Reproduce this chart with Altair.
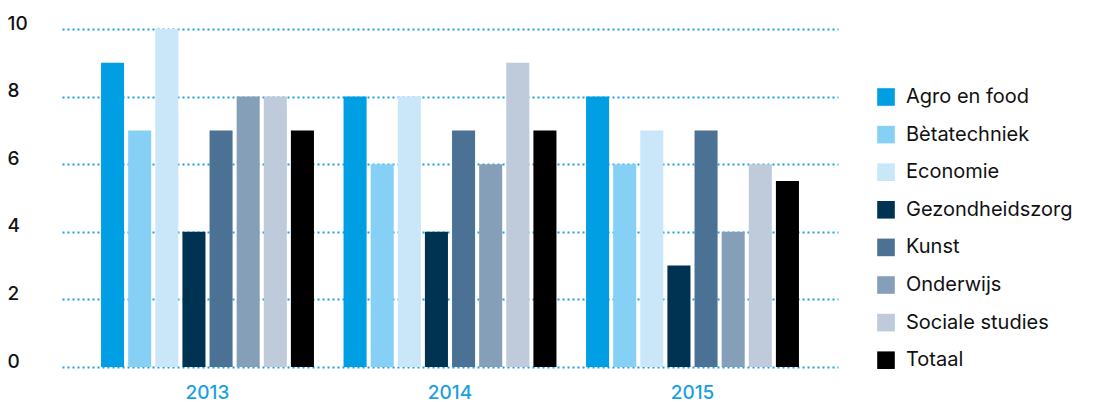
import altair as alt
import pandas as pd

years = ["2013", "2014", "2015"]
series = ["Agro en food", "Bètatechniek", "Economie", "Gezondheidszorg",
          "Kunst", "Onderwijs", "Sociale studies", "Totaal"]
colors = ["#009fe3", "#86d0f5", "#c9e7f8", "#003352",
          "#4b7295", "#869fb9", "#bfcadb", "#000000"]
values_2013 = [9, 7, 10, 4, 7, 8, 8, 7]
values_2014 = [8, 6, 8, 4, 7, 6, 9, 7]
values_2015 = [8, 6, 7, 3, 7, 4, 6, 5.5]

rows = []
for yr, vals in zip(years, [values_2013, values_2014, values_2015]):
    for s, v in zip(series, vals):
        rows.append({"jaar": yr, "richting": s, "waarde": v})
df = pd.DataFrame(rows)

FONT = "Inter"

chart = alt.Chart(df).mark_bar().encode(
    x=alt.X("jaar:N", title=None, sort=years,
            scale=alt.Scale(paddingInner=0.122, paddingOuter=0.161),
            axis=alt.Axis(labelAngle=0, domain=False, ticks=False, tickSize=0,
                          labelPadding=16, labelFontSize=19, labelColor="#1a9fe0",
                          labelFont=FONT, labelFontWeight=500, grid=False)),
    xOffset=alt.XOffset("richting:N", sort=series,
                        scale=alt.Scale(paddingInner=0.15, paddingOuter=0)),
    y=alt.Y("waarde:Q", title=None,
            scale=alt.Scale(domain=[0, 10], nice=False),
            axis=alt.Axis(values=[0, 2, 4, 6, 8, 10], domain=False, ticks=False, tickSize=0,
                          labelAlign="left", labelBaseline="alphabetic", labelPadding=55,
                          labelFontSize=19, labelColor="#111111", labelFont=FONT,
                          labelFontWeight=500,
                          grid=True, gridColor="#1aa0e0", gridWidth=2,
                          gridDash=[2, 3], gridCap="butt")),
    color=alt.Color("richting:N", sort=series,
                    scale=alt.Scale(domain=series, range=colors),
                    legend=alt.Legend(title=None, orient="none", legendX=814, legendY=58,
                                      symbolType="square", symbolSize=310,
                                      symbolStrokeWidth=0, labelFontSize=20,
                                      labelFont=FONT, labelColor="#111111",
                                      labelLimit=400,
                                      labelOffset=10, rowPadding=17.6, padding=0,
                                      symbolOpacity=1)),
).properties(
    width=776, height=338,
    padding={"left": 54, "top": 21, "right": 272, "bottom": 35},
    autosize=alt.AutoSizeParams(type="none"),
).configure_view(stroke=None).configure_axis(gridOpacity=1)

chart.save("out.html", embed_options={"renderer": "svg", "actions": False})
